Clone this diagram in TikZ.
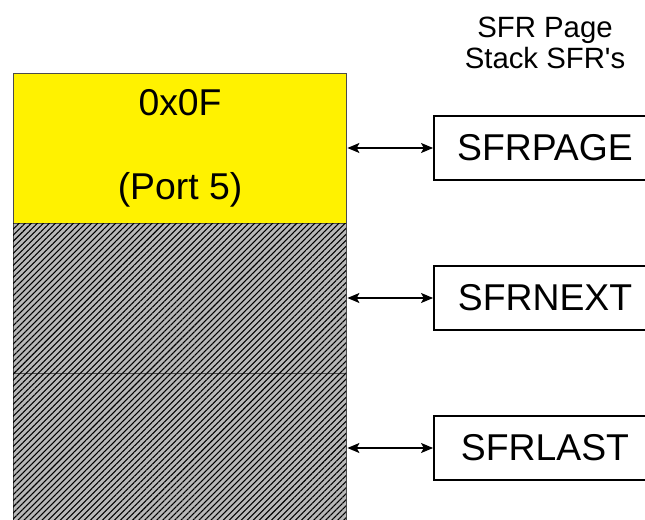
\documentclass[tikz,border=0pt]{standalone}
\usepackage{fontspec}
\setmainfont{Liberation Sans}
\usetikzlibrary{patterns.meta,arrows.meta}
\begin{document}
\begin{tikzpicture}[x=0.75pt, y=-0.75pt,
    stackcell/.style={draw=black!70, line width=0.6pt, minimum width=333*0.75pt, minimum height=150*0.75pt, inner sep=0pt},
    hatched/.style={fill=black!28, postaction={pattern={Lines[angle=45, distance=3.2pt, line width=0.8pt]}}},
    regbox/.style={draw, line width=1.4pt, minimum width=222*0.75pt, minimum height=64*0.75pt, font=\fontsize{28}{32}\selectfont},
    link/.style={{Stealth[length=9pt,width=7.5pt,inset=2pt]}-{Stealth[length=9pt,width=7.5pt,inset=2pt]}, line width=1.1pt}]
    \useasboundingbox (0, 0) rectangle (645, 520);
    % stack cells
    \node[stackcell, fill=yellow] (page) at (179.5, 148) {};
    \node[stackcell, hatched] (next) at (179.5, 298) {};
    \node[stackcell, hatched] (last) at (179.5, 448) {};
    \node[font=\fontsize{28}{32}\selectfont] (addr) at (180, 103) {0x0F};
    \node[font=\fontsize{28}{32}\selectfont] (port) at (180, 190) {(Port 5)};
    % SFR registers
    \node[font=\fontsize{22}{23.5}\selectfont, align=center] (title) at (545, 43) {SFR Page\\Stack SFR\textquotesingle s};
    \node[regbox] (sfrpage) at (545, 148) {SFRPAGE};
    \node[regbox] (sfrnext) at (545, 298) {SFRNEXT};
    \node[regbox] (sfrlast) at (545, 448) {SFRLAST};
    \foreach \cell/\reg in {page/sfrpage, next/sfrnext, last/sfrlast} {
        \draw[link] (\cell.east) ++(1, 0) -- (\reg.west);
    }
\end{tikzpicture}
\end{document}
